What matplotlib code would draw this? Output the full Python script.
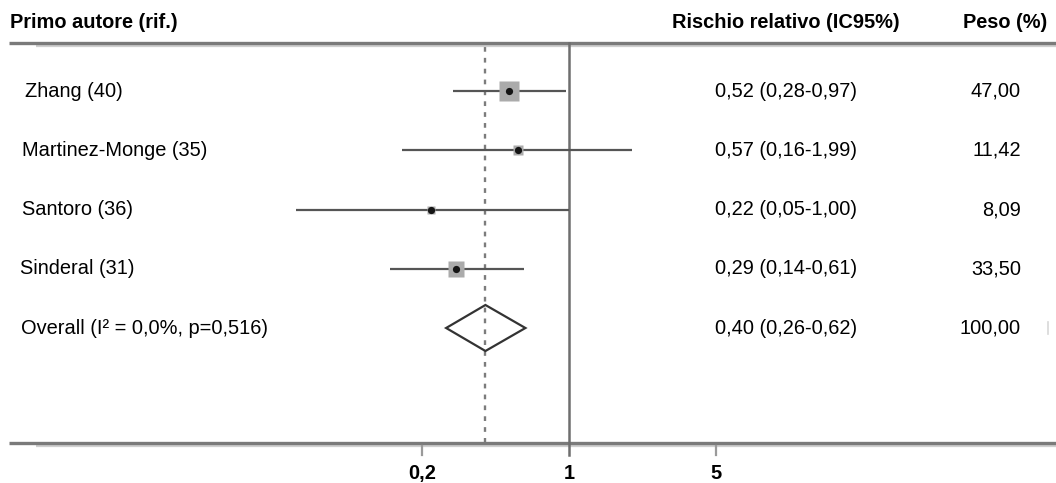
import numpy as np
import matplotlib
matplotlib.use("Agg")
import matplotlib.pyplot as plt
from matplotlib.patches import Polygon
from matplotlib.transforms import blended_transform_factory

plt.rcParams['font.family'] = ['Liberation Sans', 'DejaVu Sans']

# studies
authors = ["Zhang (40)", "Martinez-Monge (35)", "Santoro (36)", "Sinderal (31)"]
rr = [0.52, 0.57, 0.22, 0.29]
ci_low = [0.28, 0.16, 0.05, 0.14]
ci_high = [0.97, 1.99, 1.00, 0.61]
weights = [47.00, 11.42, 8.09, 33.50]

# pooled estimate
overall_label = "Overall (I\u00b2 = 0,0%, p=0,516)"
overall_rr = 0.40
overall_low = 0.26
overall_high = 0.62

ticks = [0.2, 1, 5]
tick_labels = ["0,2", "1", "5"]

W, H, DPI = 1056, 483, 100
fig = plt.figure(figsize=(W / DPI, H / DPI), dpi=DPI)
ax = fig.add_axes([0, 0, 1, 1])
ax.set_xscale('log')

# pixel layout: 1 at x=569, 210 px per decade; rows every ~59 px from y=91
x_one, per_dec = 569.0, 210.0
ax.set_xlim(10 ** ((0 - x_one) / per_dec), 10 ** ((W - x_one) / per_dec))
y0, dy = 91.0, 59.25
def row(ypix):
    return (ypix - y0) / dy
ax.set_ylim(row(H), row(0))
ax.axis('off')

tr = blended_transform_factory(ax.transAxes, ax.transData)
def fx(xpix):
    return xpix / W

def fmt(v):
    return f"{v:.2f}".replace('.', ',')

fs = 14.4
GREY = '#555555'

# header
ax.text(fx(10), row(22), "Primo autore (rif.)", transform=tr, fontsize=fs,
        fontweight='bold', va='center', ha='left')
ax.text(fx(672), row(22), "Rischio relativo (IC95%)", transform=tr, fontsize=fs,
        fontweight='bold', va='center', ha='left')
ax.text(fx(1047), row(22), "Peso (%)", transform=tr, fontsize=fs,
        fontweight='bold', va='center', ha='right')

# rules with light shadow
for ypix in (43, 443):
    ax.plot([fx(9), 1], [row(ypix), row(ypix)], transform=tr, color='#7a7a7a',
            lw=2.4, solid_capstyle='butt', zorder=3)
    ax.plot([fx(36), 1], [row(ypix + 3), row(ypix + 3)], transform=tr,
            color='#cfcfcf', lw=1.6, solid_capstyle='butt', zorder=2)

# null line and pooled line
ax.plot([1, 1], [row(43), row(455)], color='#6e6e6e', lw=1.8, zorder=3)
ax.plot([overall_rr, overall_rr], [row(47), row(446)], color='#7c7c7c', lw=1.7,
        linestyle=(0, (2, 2.6)), zorder=1)

# ticks
for t in ticks:
    if t != 1:
        ax.plot([t, t], [row(446), row(455)], color='#9a9a9a', lw=1.6, zorder=3)
for t, lab in zip(ticks, tick_labels):
    ax.text(t, row(473), lab, fontsize=fs, fontweight='bold', ha='center',
            va='center')

# study rows
label_x = [25, 22, 22, 20]
for i in range(len(authors)):
    ax.plot([ci_low[i], ci_high[i]], [i, i], color=GREY, lw=1.6,
            solid_capstyle='butt', zorder=4)
    side = 2.92 * np.sqrt(weights[i]) * 0.72
    ax.plot(rr[i], i, marker='s', ms=side, color='#ababab', mec='none', zorder=5)
    ax.plot(rr[i], i, marker='o', ms=5.2, color='#151515', mec='none', zorder=6)
    ax.text(fx(label_x[i]), i, authors[i], transform=tr, fontsize=fs,
            va='center', ha='left')
    ax.text(fx(715), i, "%s (%s-%s)" % (fmt(rr[i]), fmt(ci_low[i]), fmt(ci_high[i])),
            transform=tr, fontsize=fs, va='center', ha='left')
    ax.text(fx(1021), i, fmt(weights[i]), transform=tr,
            fontsize=fs, va='center', ha='right')

# overall diamond
yo = len(authors)
h = 23 / dy
diamond = Polygon([(overall_low, yo), (overall_rr, yo - h), (overall_high, yo),
                   (overall_rr, yo + h)], closed=True, fill=False,
                  edgecolor='#333333', lw=1.6, zorder=5)
ax.add_patch(diamond)
ax.text(fx(21), yo, overall_label, transform=tr, fontsize=fs, va='center',
        ha='left')
ax.text(fx(715), yo, "%s (%s-%s)" % (fmt(overall_rr), fmt(overall_low), fmt(overall_high)),
        transform=tr, fontsize=fs, va='center', ha='left')
ax.text(fx(1021), yo, fmt(100), transform=tr, fontsize=fs, va='center',
        ha='right')
ax.plot([fx(1048), fx(1048)], [yo - 0.1, yo + 0.1], transform=tr,
        color='#d8d8d8', lw=1.2)

fig.savefig("out.png", dpi=DPI)
